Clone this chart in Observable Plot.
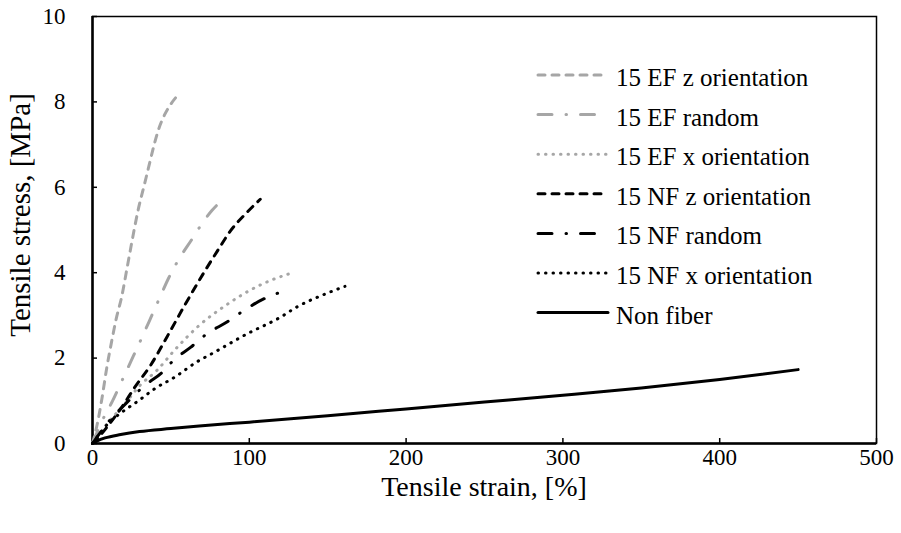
<!DOCTYPE html>
<html><head><meta charset="utf-8">
<script src="https://cdn.jsdelivr.net/npm/d3@7"></script>
<script src="https://cdn.jsdelivr.net/npm/@observablehq/plot@0.6"></script>
<style>
body{margin:0;background:#fff}
#chart{position:relative;width:901px;height:533px}
</style>
</head><body><div id="chart"></div>
<script>
// ---- data ----
const seriesNames = ["15 EF z orientation","15 EF random","15 EF x orientation","15 NF z orientation","15 NF random","15 NF x orientation","Non fiber"];
const efZStrain  = [0,3,6,9,12,15,18.7,22,25,29,33,36,39,42,46,50,54];
const efZStress  = [0,0.45,1.05,1.75,2.35,2.9,3.45,4.1,4.7,5.45,6.05,6.5,6.95,7.34,7.7,7.95,8.14];
const efRStrain  = [0,6.4,12.8,19.4,24.2,31,37,42.7,48.5,55,63,70.6,76,82.7];
const efRStress  = [0,0.55,1.0,1.52,1.9,2.44,2.93,3.4,3.87,4.31,4.76,5.19,5.45,5.7];
const efXStrain  = [0,9,20,30,41,52.7,67.6,86,100,115,126];
const efXStress  = [0,0.45,0.9,1.35,1.71,2.2,2.75,3.26,3.58,3.84,3.98];
const nfZStrain  = [0,4,10,18.7,27,37,47.4,59,71,79.5,88,98.7,107];
const nfZStress  = [0,0.15,0.42,0.85,1.32,1.83,2.49,3.25,4.0,4.5,4.98,5.42,5.72];
const nfRStrain  = [0,10,21.7,33,44,51.7,62.5,73,86,98,110,123];
const nfRStress  = [0,0.5,0.95,1.35,1.65,1.95,2.25,2.57,2.85,3.15,3.4,3.58];
const nfXStrain  = [0,5,10,18.7,29.3,40,52.7,66.5,77.4,98.7,120,130.5,149.7,161];
const nfXStress  = [0,0.25,0.47,0.73,1.0,1.29,1.56,1.91,2.13,2.57,2.96,3.2,3.52,3.68];
const nonStrain  = [0,3,8,18,30,50,68,100,150,200,250,300,350,400,450];
const nonStress  = [0,0.06,0.13,0.21,0.28,0.35,0.41,0.5,0.65,0.81,0.97,1.13,1.3,1.5,1.73];
const xTicks = [0,100,200,300,400,500];
const yTicks = [0,2,4,6,8,10];
const xTitle = "Tensile strain, [%]";
const yTitle = "Tensile stress, [MPa]";

// ---- styles ----
const GRAY = "#a6a6a6", BLACK = "#000000";
const DASH = "7,7", DASHDOT = "14,14,0.5,14", DOT = "0.5,7";
const styles = [
  {color: GRAY, dash: DASH},
  {color: GRAY, dash: DASHDOT},
  {color: GRAY, dash: DOT},
  {color: BLACK, dash: DASH},
  {color: BLACK, dash: DASHDOT},
  {color: BLACK, dash: DOT},
  {color: BLACK, dash: null}
];
const pairs = [[efZStrain,efZStress],[efRStrain,efRStress],[efXStrain,efXStress],[nfZStrain,nfZStress],[nfRStrain,nfRStress],[nfXStrain,nfXStress],[nonStrain,nonStress]];
const table = seriesNames.map((name, i) => pairs[i][0].map((x, j) => ({series: name, strain: x, stress: pairs[i][1][j]})));

const W = 901, H = 533, mL = 92, mR = 25, mT = 16, mB = 90;
const innerW = W - mL - mR, innerH = H - mT - mB;
const FONT = "'Liberation Serif', Tinos, 'Times New Roman', serif";

const lineMarks = table.map((rows, i) => Plot.line(rows, {
  x: "strain", y: "stress", stroke: styles[i].color, strokeWidth: 3,
  strokeDasharray: styles[i].dash || undefined, strokeLinecap: "round", curve: "monotone-x"
}));

const chart = Plot.plot({
  width: W, height: H,
  marginLeft: mL, marginRight: mR, marginTop: mT, marginBottom: mB,
  style: {fontFamily: FONT, fontSize: "23px", color: "#000", background: "#fff"},
  x: {domain: [0, 500]},
  y: {domain: [0, 10]},
  marks: [
    Plot.axisX({ticks: xTicks, tickSize: 0, tickPadding: 5, label: null, fontSize: 23}),
    Plot.axisY({ticks: yTicks, tickSize: 0, tickPadding: 27, label: null, fontSize: 23}),
    Plot.tickX(xTicks, {x: d => d, insetTop: innerH - 5, stroke: "#000", strokeWidth: 1.5}),
    Plot.tickY(yTicks, {y: d => d, insetRight: innerW - 5, stroke: "#000", strokeWidth: 1.5}),
    Plot.frame({stroke: "#000", strokeWidth: 1.5}),
    Plot.ruleX([0], {stroke: "#000", strokeWidth: 2.5}),
    Plot.ruleY([0], {stroke: "#000", strokeWidth: 2.5}),
    ...lineMarks
  ]
});
document.getElementById("chart").appendChild(chart);

const svg = d3.select(chart);
// ---- axis titles ----
svg.append("text").attr("x", mL + innerW / 2).attr("y", 486).attr("dy", "0.35em")
  .attr("text-anchor", "middle").style("font-family", FONT).attr("font-size", 28).attr("fill", "#000").text(xTitle);
svg.append("text").attr("transform", `translate(20,215) rotate(-90)`).attr("dy", "0.35em")
  .attr("text-anchor", "middle").style("font-family", FONT).attr("font-size", 29).attr("fill", "#000").text(yTitle);

// ---- legend (inside plot area, top right) ----
const lg = svg.append("g").attr("class", "legend");
const lx0 = 538, lx1 = 608, tx = 616, ly0 = 78, dyRow = 39.6;
seriesNames.forEach((name, i) => {
  const y = ly0 + i * dyRow;
  lg.append("line").attr("x1", lx0).attr("x2", lx1).attr("y1", y - 3).attr("y2", y - 3)
    .attr("stroke", styles[i].color).attr("stroke-width", 3)
    .attr("stroke-linecap", "round")
    .attr("stroke-dasharray", styles[i].dash || null);
  lg.append("text").attr("x", tx).attr("y", y).attr("dy", "0.32em").attr("text-anchor", "start")
    .style("font-family", FONT).attr("font-size", 25).attr("fill", "#000").text(name);
});
</script>
</body></html>
